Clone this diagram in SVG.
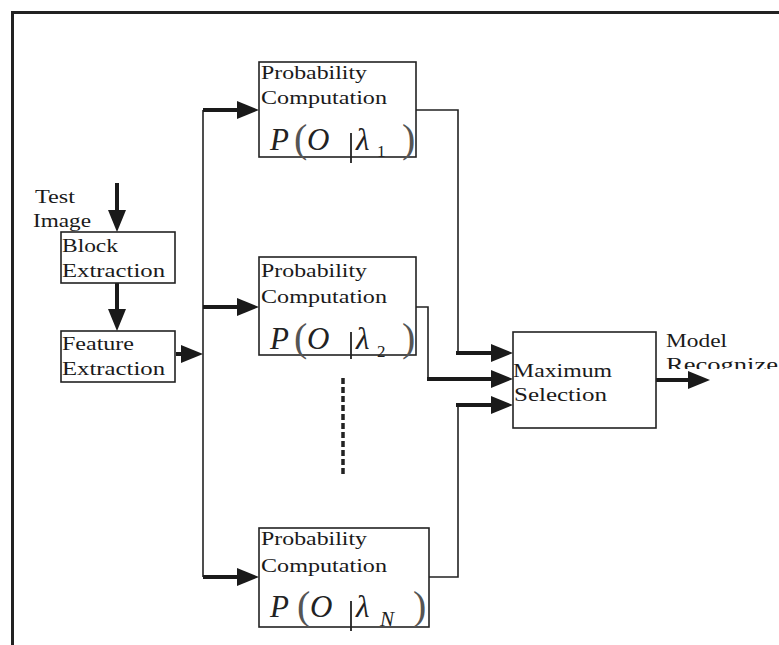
<svg xmlns="http://www.w3.org/2000/svg" width="779" height="645" viewBox="0 0 779 645">
<style>
.box{fill:#fff;stroke:#222;stroke-width:1.6}
.t{font-family:"Liberation Serif","Times New Roman",serif;font-size:19px;fill:#1a1a1a}
.m{font-family:"Liberation Serif","Times New Roman",serif;font-size:31px;font-style:italic;fill:#222}
.par{font-family:"Liberation Serif","Times New Roman",serif;font-size:40px;fill:#555}
.sub{font-family:"Liberation Serif","Times New Roman",serif;font-size:17px;fill:#222}
.bar{stroke:#222;stroke-width:1.8}
.thin{fill:none;stroke:#222;stroke-width:1.6}
.thick{fill:none;stroke:#1a1a1a;stroke-width:4;marker-end:url(#ah)}
</style>
<defs>
<marker id="ah" markerUnits="userSpaceOnUse" markerWidth="22" markerHeight="18" refX="12" refY="9" orient="auto">
<path d="M0,0 L22,9 L0,18 z" fill="#1a1a1a"/>
</marker>
<clipPath id="clipRec"><rect x="640" y="340" width="139" height="29"/></clipPath>
</defs>
<rect width="779" height="645" fill="#fff"/>
<g id="frame" fill="none" stroke="#222" stroke-width="3">
<path d="M12.5,645 V12.5 H779"/>
</g>
<g id="connectors">
<path class="thin" d="M203,110 V577"/>
<path class="thin" d="M416,110 H458 V353"/>
<path class="thin" d="M416,307 H428 V379"/>
<path class="thin" d="M429,577 H458 V405"/>
<path class="thick" d="M117,183 V222"/>
<path class="thick" d="M117,283 V321"/>
<path class="thick" d="M176,354 H193"/>
<path class="thick" d="M203,110 H249"/>
<path class="thick" d="M203,307 H249"/>
<path class="thick" d="M203,577 H249"/>
<path class="thick" d="M456,353 H503"/>
<path class="thick" d="M427,379 H503"/>
<path class="thick" d="M456,405 H503"/>
<path class="thick" d="M656,380 H700"/>
<path d="M343,378 V477" fill="none" stroke="#222" stroke-width="3.5" stroke-dasharray="6,3"/>
</g>
<g id="input">
<text class="t" x="35" y="203" textLength="40" lengthAdjust="spacingAndGlyphs">Test</text>
<text class="t" x="33" y="227" textLength="58" lengthAdjust="spacingAndGlyphs">Image</text>
</g>
<g id="block">
<rect class="box" x="61" y="232" width="114" height="51"/>
<text class="t" x="62" y="252" textLength="56" lengthAdjust="spacingAndGlyphs">Block</text>
<text class="t" x="62" y="277" textLength="103" lengthAdjust="spacingAndGlyphs">Extraction</text>
</g>
<g id="feature">
<rect class="box" x="61" y="331" width="114" height="51"/>
<text class="t" x="62" y="350" textLength="72" lengthAdjust="spacingAndGlyphs">Feature</text>
<text class="t" x="62" y="375" textLength="103" lengthAdjust="spacingAndGlyphs">Extraction</text>
</g>
<g id="prob1">
<rect class="box" x="259" y="62" width="157" height="95"/>
<text class="t" x="261" y="79" textLength="106" lengthAdjust="spacingAndGlyphs">Probability</text>
<text class="t" x="261" y="104" textLength="126" lengthAdjust="spacingAndGlyphs">Computation</text>
<text class="m" x="270" y="150">P</text>
<text class="par" x="294" y="152">(</text>
<text class="m" x="307" y="150">O</text>
<line class="bar" x1="351" y1="133" x2="351" y2="163"/>
<text class="m" x="356" y="150">λ</text>
<text class="sub" x="377" y="157">1</text>
<text class="par" x="402" y="152">)</text>
</g>
<g id="prob2">
<rect class="box" x="259" y="257" width="157" height="98"/>
<text class="t" x="261" y="277" textLength="106" lengthAdjust="spacingAndGlyphs">Probability</text>
<text class="t" x="261" y="303" textLength="126" lengthAdjust="spacingAndGlyphs">Computation</text>
<text class="m" x="270" y="349">P</text>
<text class="par" x="294" y="351">(</text>
<text class="m" x="307" y="349">O</text>
<line class="bar" x1="351" y1="332" x2="351" y2="359"/>
<text class="m" x="356" y="349">λ</text>
<text class="sub" x="377" y="357">2</text>
<text class="par" x="402" y="351">)</text>
</g>
<g id="probN">
<rect class="box" x="259" y="528" width="170" height="99"/>
<text class="t" x="261" y="545" textLength="106" lengthAdjust="spacingAndGlyphs">Probability</text>
<text class="t" x="261" y="572" textLength="126" lengthAdjust="spacingAndGlyphs">Computation</text>
<text class="m" x="270" y="617">P</text>
<text class="par" x="297" y="619">(</text>
<text class="m" x="310" y="617">O</text>
<line class="bar" x1="351" y1="601" x2="351" y2="631"/>
<text class="m" x="356" y="617">λ</text>
<text class="m" x="380" y="626" style="font-size:21px">N</text>
<text class="par" x="413" y="619">)</text>
</g>
<g id="maxsel">
<rect class="box" x="513" y="332" width="143" height="96"/>
<text class="t" x="513" y="377" textLength="99" lengthAdjust="spacingAndGlyphs">Maximum</text>
<text class="t" x="514" y="401" textLength="93" lengthAdjust="spacingAndGlyphs">Selection</text>
</g>
<g id="output">
<text class="t" x="666" y="347" textLength="61" lengthAdjust="spacingAndGlyphs">Model</text>
<text class="t" x="666" y="371" textLength="112" lengthAdjust="spacingAndGlyphs" clip-path="url(#clipRec)">Recognize</text>
</g>
</svg>
